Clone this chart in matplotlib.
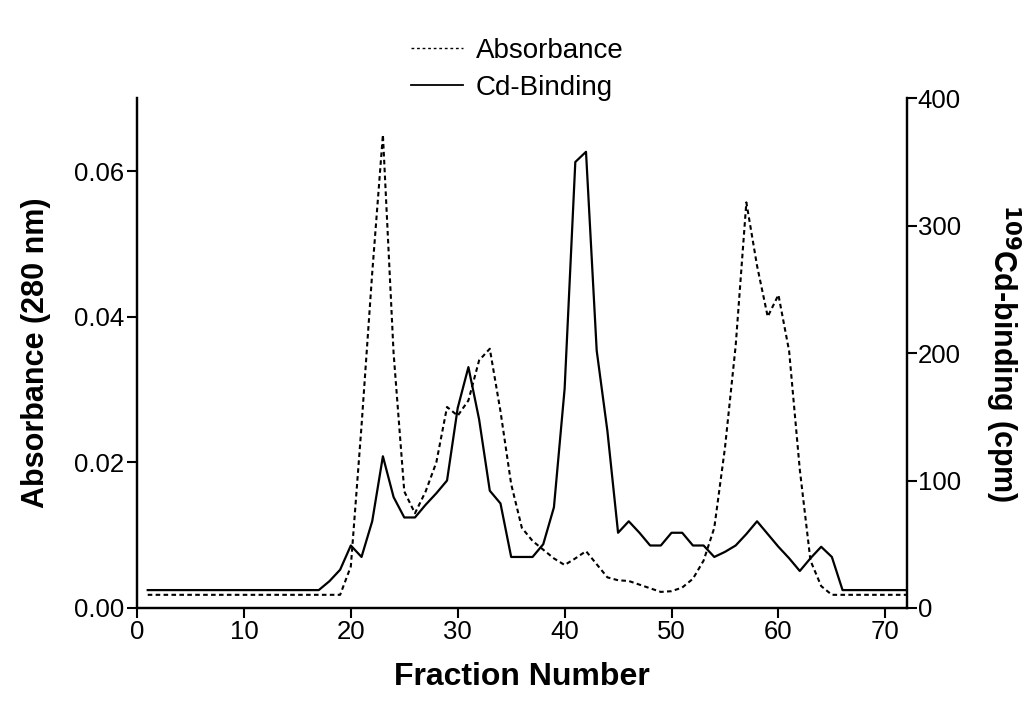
"""
Gel filtration profile: absorbance at 280 nm and 109Cd binding per fraction
"""
import matplotlib
matplotlib.use("Agg")
import matplotlib.pyplot as plt
from matplotlib.lines import Line2D

plt.rcParams['font.family'] = ['Liberation Sans', 'DejaVu Sans']

fractions = list(range(1, 73))

absorbance = [0.0018] * 19 + [
    0.0057, 0.025, 0.046, 0.065, 0.035, 0.016, 0.013, 0.016, 0.020, 0.0276,   # 20-29
    0.0264, 0.0285, 0.034, 0.0356, 0.027, 0.017, 0.011, 0.0092, 0.0080, 0.0068,  # 30-39
    0.0059, 0.0068, 0.0078, 0.0060, 0.0042, 0.0038, 0.0037, 0.0032, 0.0027, 0.0022,  # 40-49
    0.0023, 0.0028, 0.0040, 0.0065, 0.011, 0.022, 0.036, 0.0557, 0.047, 0.040,  # 50-59
    0.043, 0.0353, 0.019, 0.0065, 0.0030,  # 60-64
] + [0.0018] * 8

cd_binding = [14] * 17 + [
    21, 30, 49, 40, 68, 119, 87, 71, 71, 81, 90, 100,   # 18-29
    157, 189, 148, 92, 82, 40, 40, 40, 50, 79,          # 30-39
    172, 350, 358, 202, 139, 59, 68, 59, 49, 49,        # 40-49
    59, 59, 49, 49, 40, 44, 49, 58, 68, 58,             # 50-59
    48, 39, 29, 39, 48, 40,                             # 60-65
] + [14] * 7

fig = plt.figure(figsize=(10.28, 7.02), dpi=100)
ax = fig.add_axes([0.1333, 0.134, 0.7487, 0.726])
ax2 = ax.twinx()

dash = (0, (2.2, 1.6))
ax.plot(fractions, absorbance, color='black', lw=1.5, linestyle=dash)
ax2.plot(fractions, cd_binding, color='black', lw=1.6)

ax.set_xlim(0, 72)
ax.set_ylim(0, 0.07)
ax2.set_ylim(0, 400)
ax.set_xticks(range(0, 71, 10))
ax.set_yticks([0.0, 0.02, 0.04, 0.06])
ax.set_yticklabels(['0.00', '0.02', '0.04', '0.06'])
ax2.set_yticks([0, 100, 200, 300, 400])

for a in (ax, ax2):
    a.spines['top'].set_visible(False)
    for s in a.spines.values():
        s.set_linewidth(1.6)
    a.tick_params(width=1.5, length=7, labelsize=18.5, pad=2)
ax2.tick_params(axis='y', pad=1)

ax.set_xlabel('Fraction Number', fontsize=23, fontweight='bold', labelpad=13)
ax.set_ylabel('Absorbance (280 nm)', fontsize=22, fontweight='bold', labelpad=17)
ax2.set_ylabel('$\\mathbf{^{109}}$Cd-binding (cpm)', fontsize=22, fontweight='bold',
               rotation=270, labelpad=44)

handles = [
    Line2D([], [], color='black', lw=1.0, linestyle=(0, (2, 2))),
    Line2D([], [], color='black', lw=1.3),
]
fig.legend(handles, ['Absorbance', 'Cd-Binding'], loc='upper center',
           bbox_to_anchor=(0.503, 0.982), frameon=False, fontsize=20,
           handlelength=1.9, handletextpad=0.45, labelspacing=0.4)

fig.savefig('out.png', dpi=100)
